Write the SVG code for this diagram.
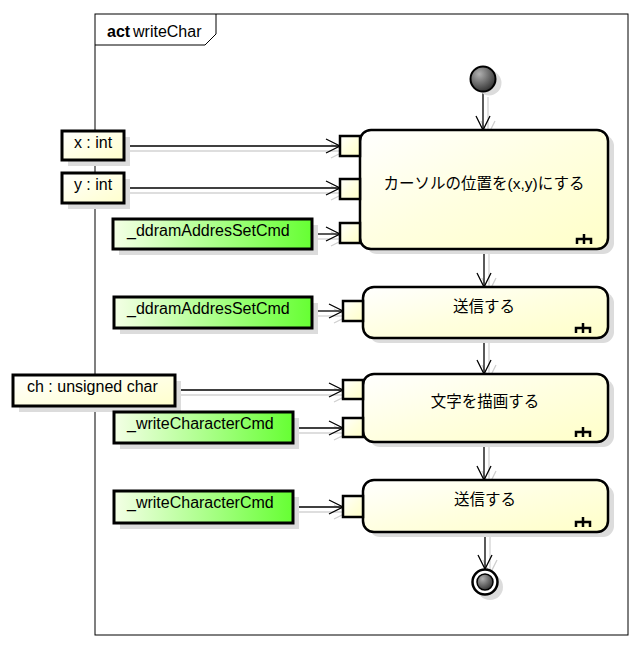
<svg xmlns="http://www.w3.org/2000/svg" width="642" height="648" viewBox="0 0 642 648">
<defs>
<linearGradient id="actG" x1="0" y1="0" x2="1" y2="1"><stop offset="0" stop-color="#ffffff"/><stop offset="0.5" stop-color="#ffffe0"/><stop offset="1" stop-color="#ffffc8"/></linearGradient>
<linearGradient id="objY" x1="0" y1="0" x2="1" y2="1"><stop offset="0" stop-color="#ffffff"/><stop offset="1" stop-color="#ffffcc"/></linearGradient>
<linearGradient id="objG" x1="0" y1="0" x2="1" y2="0"><stop offset="0" stop-color="#f4ffe6"/><stop offset="1" stop-color="#66ff33"/></linearGradient>
<radialGradient id="ball" cx="0.35" cy="0.3" r="0.75"><stop offset="0" stop-color="#b0b0b0"/><stop offset="1" stop-color="#303030"/></radialGradient>
<marker id="ah" markerUnits="userSpaceOnUse" markerWidth="20" markerHeight="20" viewBox="-16 -10 20 20" refX="0" refY="0" orient="auto"><path d="M-14,-7 L0,0 L-14,7" fill="none" stroke="#000" stroke-width="1.3"/></marker>
<marker id="ahs" markerUnits="userSpaceOnUse" markerWidth="20" markerHeight="20" viewBox="-16 -10 20 20" refX="0" refY="0" orient="auto"><path d="M-14,-7 L0,0 L-14,7" fill="none" stroke="#cfcfcf" stroke-width="1.3"/></marker>
</defs>
<style>
.t{font-family:"Liberation Sans","Noto Sans CJK JP",sans-serif;font-size:16px;fill:#000}
.j{font-size:15.5px}
.sh{fill:#dcdcdc}
.act{fill:url(#actG);stroke:#000;stroke-width:2.5}
.pin{fill:url(#actG);stroke:#000;stroke-width:2.5}
.oy{fill:url(#objY);stroke:#000;stroke-width:3}
.og{fill:url(#objG);stroke:#000;stroke-width:3}
.c{fill:none;stroke:#000;stroke-width:1.3;marker-end:url(#ah)}
.cs{fill:none;stroke:#d3d3d3;stroke-width:1.3;marker-end:url(#ahs)}
.rake{fill:none;stroke:#000;stroke-width:2.5}
</style>
<rect x="0" y="0" width="642" height="648" fill="#fff"/>
<g id="frame">
<rect x="95" y="14" width="533" height="621" fill="none" stroke="#000" stroke-width="1"/>
<path d="M95,45 H205 L216,34 V14" fill="none" stroke="#000" stroke-width="1"/>
<text x="107" y="37" class="t" font-weight="bold">act</text>
<text x="133" y="37" class="t">writeChar</text>
</g>
<g id="connectors">
<g transform="translate(5,5)">
<path class="cs" d="M483,92 V130"/>
<path class="cs" d="M484,249 V287"/>
<path class="cs" d="M484,338 V374"/>
<path class="cs" d="M484,442 V480"/>
<path class="cs" d="M485,532 V569"/>
<path class="cs" d="M124,146 H340"/>
<path class="cs" d="M124,188 H340"/>
<path class="cs" d="M312,234 H340"/>
<path class="cs" d="M312,311 H343"/>
<path class="cs" d="M175,390 H343"/>
<path class="cs" d="M293,428 H343"/>
<path class="cs" d="M293,507 H343"/>
</g>
<path class="c" d="M483,92 V130"/>
<path class="c" d="M484,249 V287"/>
<path class="c" d="M484,338 V374"/>
<path class="c" d="M484,442 V480"/>
<path class="c" d="M485,532 V569"/>
<path class="c" d="M124,146 H340"/>
<path class="c" d="M124,188 H340"/>
<path class="c" d="M312,234 H340"/>
<path class="c" d="M312,311 H343"/>
<path class="c" d="M175,390 H343"/>
<path class="c" d="M293,428 H343"/>
<path class="c" d="M293,507 H343"/>
</g>
<g id="initial">
<circle cx="489" cy="83" r="12.5" class="sh"/>
<circle cx="483" cy="79" r="12.5" fill="url(#ball)" stroke="#000" stroke-width="2"/>
</g>
<g id="action1">
<rect x="366" y="135" width="248" height="119" rx="11" class="sh"/>
<rect x="360" y="130" width="248" height="119" rx="11" class="act"/>
<rect x="340" y="136" width="20" height="20" class="pin"/>
<rect x="340" y="179" width="20" height="20" class="pin"/>
<rect x="340" y="223" width="20" height="20" class="pin"/>
<text x="484" y="189" class="t j" text-anchor="middle">カーソルの位置を(x,y)にする</text>
<path class="rake" d="M584,234 V244 M577,244 V239 H591 V244"/>
</g>
<g id="action2">
<rect x="369" y="292" width="245" height="51" rx="11" class="sh"/>
<rect x="363" y="287" width="245" height="51" rx="11" class="act"/>
<rect x="343" y="301" width="20" height="20" class="pin"/>
<text x="484" y="312" class="t j" text-anchor="middle">送信する</text>
<path class="rake" d="M583,323 V333 M576,333 V328 H590 V333"/>
</g>
<g id="action3">
<rect x="369" y="379" width="245" height="68" rx="11" class="sh"/>
<rect x="363" y="374" width="245" height="68" rx="11" class="act"/>
<rect x="343" y="380" width="20" height="19" class="pin"/>
<rect x="343" y="418" width="20" height="19" class="pin"/>
<text x="485" y="407" class="t j" text-anchor="middle">文字を描画する</text>
<path class="rake" d="M583,427 V437 M576,437 V432 H590 V437"/>
</g>
<g id="action4">
<rect x="369" y="485" width="245" height="52" rx="11" class="sh"/>
<rect x="363" y="480" width="245" height="52" rx="11" class="act"/>
<rect x="343" y="496" width="20" height="21" class="pin"/>
<text x="485" y="505" class="t j" text-anchor="middle">送信する</text>
<path class="rake" d="M583,517 V527 M576,527 V522 H590 V527"/>
</g>
<g id="final">
<circle cx="490" cy="587" r="13" class="sh"/>
<circle cx="485" cy="582" r="12.5" fill="#fff" stroke="#000" stroke-width="2.5"/>
<circle cx="485" cy="582" r="8" fill="url(#ball)" stroke="#000" stroke-width="1.5"/>
</g>
<g id="obj_x">
<rect x="68" y="137" width="62" height="29" class="sh"/>
<rect x="62" y="131" width="62" height="29" class="oy"/>
<text x="93" y="148" class="t" text-anchor="middle">x : int</text>
</g>
<g id="obj_y">
<rect x="68" y="179" width="62" height="30" class="sh"/>
<rect x="62" y="173" width="62" height="30" class="oy"/>
<text x="93" y="190" class="t" text-anchor="middle">y : int</text>
</g>
<g id="obj_ddram1">
<rect x="119" y="225" width="199" height="30" class="sh"/>
<rect x="113" y="219" width="199" height="30" class="og"/>
<text x="127" y="236" class="t">_ddramAddresSetCmd</text>
</g>
<g id="obj_ddram2">
<rect x="120" y="303" width="198" height="31" class="sh"/>
<rect x="114" y="297" width="198" height="31" class="og"/>
<text x="127" y="314" class="t">_ddramAddresSetCmd</text>
</g>
<g id="obj_ch">
<rect x="19" y="381" width="162" height="31" class="sh"/>
<rect x="13" y="375" width="162" height="31" class="oy"/>
<text x="27" y="392" class="t">ch : unsigned char</text>
</g>
<g id="obj_write1">
<rect x="120" y="418" width="179" height="31" class="sh"/>
<rect x="114" y="412" width="179" height="31" class="og"/>
<text x="127" y="429" class="t">_writeCharacterCmd</text>
</g>
<g id="obj_write2">
<rect x="120" y="497" width="179" height="32" class="sh"/>
<rect x="114" y="491" width="179" height="32" class="og"/>
<text x="127" y="508" class="t">_writeCharacterCmd</text>
</g>
</svg>
